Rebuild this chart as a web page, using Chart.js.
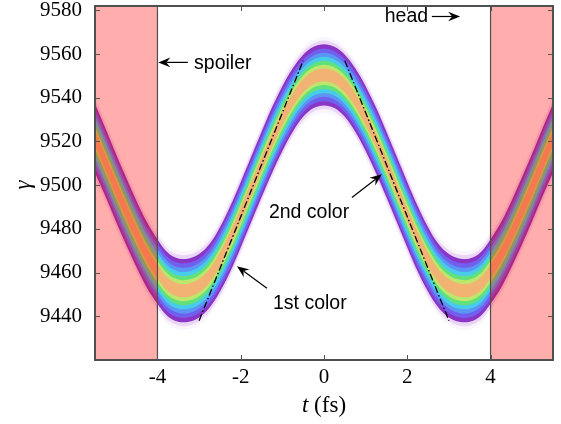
<!DOCTYPE html>
<html>
<head>
<meta charset="utf-8">
<script src="https://cdn.jsdelivr.net/npm/chart.js@4.4.1/dist/chart.umd.min.js"></script>
<style>
  html, body { margin: 0; padding: 0; background: #fff; }
  #wrap { width: 561px; height: 424px; }
</style>
</head>
<body>
<div id="wrap"><canvas id="gammaChart" width="561" height="424"></canvas></div>
<script>
/* Energy (gamma) of the electron bunch versus time, with the spoiler
 * regions shaded at both ends and the two chirp guides drawn dash-dot. */

// time samples along the bunch (fs)
const timeFs = [
    -5.5, -5.25, -5.0, -4.75, -4.5, -4.25, -4.0, -3.75, -3.5, -3.25, -3.0,
    -2.75, -2.5, -2.25, -2.0, -1.75, -1.5, -1.25, -1.0, -0.75, -0.5, -0.25,
    0.0, 0.25, 0.5, 0.75, 1.0, 1.25, 1.5, 1.75, 2.0, 2.25, 2.5, 2.75,
    3.0, 3.25, 3.5, 3.75, 4.0, 4.25, 4.5, 4.75, 5.0, 5.25, 5.5
];
// centre of the gamma band at each sample
const gammaCenter = [
    9521.5, 9510.5, 9499.0, 9488.0, 9477.5, 9468.0, 9460.5, 9454.5, 9452.0, 9452.0, 9454.0,
    9458.5, 9466.0, 9475.5, 9486.5, 9498.0, 9509.5, 9520.5, 9530.5, 9539.0, 9545.5, 9549.3,
    9550.5, 9549.3, 9545.5, 9539.0, 9530.5, 9520.5, 9509.5, 9498.0, 9486.5, 9475.5, 9466.0, 9458.5,
    9454.0, 9452.0, 9452.0, 9454.5, 9460.5, 9468.0, 9477.5, 9488.0, 9499.0, 9510.5, 9521.5
];
// half height of the band (energy spread)
const gammaSpread = [
    15.8, 15.6, 15.5, 15.4, 15.2, 15.0, 14.8, 14.6, 14.5, 14.5, 14.5,
    14.6, 14.8, 15.0, 15.0, 15.0, 15.0, 15.0, 14.8, 14.5, 14.2, 14.0,
    14.0, 14.0, 14.2, 14.5, 14.8, 15.0, 15.0, 15.0, 15.0, 15.0, 14.8, 14.6,
    14.5, 14.5, 14.5, 14.6, 14.8, 15.0, 15.2, 15.4, 15.5, 15.6, 15.8
];

const xTickValues = [-4, -2, 0, 2, 4];
const yTickValues = [9440, 9460, 9480, 9500, 9520, 9540, 9560, 9580];
const spoilerEdges = [-4, 4];

// dash-dot chirp guides
const guideLeftT = [-3.0, -0.5];
const guideLeftGamma = [9438, 9557];
const guideRightT = [0.5, 3.0];
const guideRightGamma = [9557, 9438];

// colour layers of the density band, outermost first: [fraction of spread, colour]
const bandLayers = [
    [1.24, 'rgba(180,110,230,0.07)'],
    [1.12, 'rgba(160,80,220,0.18)'],
    [1.00, '#8b35c6'],
    [0.86, '#7160ee'],
    [0.72, '#5b96f4'],
    [0.59, '#47cdea'],
    [0.46, '#62e07c'],
    [0.33, '#bde66c'],
    [0.21, '#f1b274']
];

const SERIF = '"Liberation Serif", "Times New Roman", serif';
const SANS = '"Liberation Sans", Arial, Helvetica, sans-serif';

// inner layers go first in the list so the outer ones are painted underneath
const datasets = [];
datasets.push({
    data: guideLeftT.map(function (t, i) { return { x: t, y: guideLeftGamma[i] }; }),
    borderColor: '#000', borderWidth: 1.3, borderDash: [7, 2.5, 1.5, 2.5],
    pointRadius: 0, fill: false
});
datasets.push({
    data: guideRightT.map(function (t, i) { return { x: t, y: guideRightGamma[i] }; }),
    borderColor: '#000', borderWidth: 1.3, borderDash: [7, 2.5, 1.5, 2.5],
    pointRadius: 0, fill: false
});
bandLayers.slice().reverse().forEach(function (layer) {
    const f = layer[0];
    datasets.push({
        data: timeFs.map(function (t, i) { return { x: t, y: gammaCenter[i] + f * gammaSpread[i] }; }),
        borderWidth: 0, pointRadius: 0, tension: 0.35,
        fill: '+1', backgroundColor: layer[1]
    });
    datasets.push({
        data: timeFs.map(function (t, i) { return { x: t, y: gammaCenter[i] - f * gammaSpread[i] }; }),
        borderWidth: 0, pointRadius: 0, tension: 0.35, fill: false
    });
});

function arrow(ctx, x0, y0, x1, y1) {
    const ang = Math.atan2(y1 - y0, x1 - x0);
    const len = 12, half = 4.8, notch = 8;
    ctx.beginPath();
    ctx.moveTo(x0, y0);
    ctx.lineTo(x1 - notch * Math.cos(ang), y1 - notch * Math.sin(ang));
    ctx.stroke();
    ctx.save();
    ctx.translate(x1, y1);
    ctx.rotate(ang);
    ctx.beginPath();
    ctx.moveTo(0, 0);
    ctx.lineTo(-len, -half);
    ctx.lineTo(-notch, 0);
    ctx.lineTo(-len, half);
    ctx.closePath();
    ctx.fill();
    ctx.restore();
}

const decorPlugin = {
    id: 'decor',
    afterDatasetsDraw: function (chart) {
        const ctx = chart.ctx;
        const a = chart.chartArea;
        const xs = chart.scales.x, ys = chart.scales.y;
        const xl = xs.getPixelForValue(spoilerEdges[0]);
        const xr = xs.getPixelForValue(spoilerEdges[1]);

        ctx.save();
        // spoiler shading
        ctx.fillStyle = 'rgba(255,0,0,0.32)';
        ctx.fillRect(a.left, a.top, xl - a.left, a.bottom - a.top);
        ctx.fillRect(xr, a.top, a.right - xr, a.bottom - a.top);
        ctx.strokeStyle = '#4d4d4d';
        ctx.lineWidth = 1.2;
        ctx.beginPath();
        ctx.moveTo(xl, a.top); ctx.lineTo(xl, a.bottom);
        ctx.moveTo(xr, a.top); ctx.lineTo(xr, a.bottom);
        ctx.stroke();

        // frame
        ctx.strokeStyle = '#505050';
        ctx.lineWidth = 2;
        ctx.strokeRect(a.left, a.top, a.right - a.left, a.bottom - a.top);

        // inward ticks on all four sides
        ctx.lineWidth = 1;
        ctx.strokeStyle = '#555';
        ctx.beginPath();
        xTickValues.forEach(function (v) {
            const px = Math.round(xs.getPixelForValue(v)) + 0.5;
            ctx.moveTo(px, a.bottom); ctx.lineTo(px, a.bottom - 5);
            ctx.moveTo(px, a.top); ctx.lineTo(px, a.top + 5);
        });
        yTickValues.forEach(function (v) {
            const py = Math.round(ys.getPixelForValue(v)) + 0.5;
            ctx.moveTo(a.left, py); ctx.lineTo(a.left + 5, py);
            ctx.moveTo(a.right, py); ctx.lineTo(a.right - 5, py);
        });
        ctx.stroke();

        // annotations
        ctx.fillStyle = '#000';
        ctx.strokeStyle = '#000';
        ctx.lineWidth = 1.2;
        ctx.font = '19.5px ' + SANS;
        ctx.textBaseline = 'middle';
        const P = function (t, g) { return [xs.getPixelForValue(t), ys.getPixelForValue(g)]; };

        let p0 = P(-3.27, 9556.2), p1 = P(-3.98, 9556.2);
        arrow(ctx, p0[0], p0[1], p1[0], p1[1]);
        ctx.textAlign = 'left';
        let q = P(-3.12, 9555.5);
        ctx.fillText('spoiler', q[0], q[1]);

        q = P(2.5, 9577.0);
        ctx.textAlign = 'right';
        ctx.fillText('head', q[0], q[1]);
        p0 = P(2.59, 9577.2); p1 = P(3.27, 9577.2);
        arrow(ctx, p0[0], p0[1], p1[0], p1[1]);

        ctx.textAlign = 'center';
        q = P(-0.36, 9487.6);
        ctx.fillText('2nd color', q[0], q[1]);
        p0 = P(0.67, 9494.4); p1 = P(1.39, 9505.0);
        arrow(ctx, p0[0], p0[1], p1[0], p1[1]);

        q = P(-0.34, 9446.0);
        ctx.fillText('1st color', q[0], q[1]);
        p0 = P(-1.37, 9452.8); p1 = P(-2.09, 9462.9);
        arrow(ctx, p0[0], p0[1], p1[0], p1[1]);

        // axis titles
        ctx.textBaseline = 'alphabetic';
        ctx.textAlign = 'left';
        const cx = (a.left + a.right) / 2;
        ctx.font = 'italic 23px ' + SERIF;
        const wt = ctx.measureText('t').width;
        ctx.font = '23px ' + SERIF;
        const wr = ctx.measureText(' (fs)').width;
        const x0 = cx - (wt + wr) / 2;
        ctx.font = 'italic 23px ' + SERIF;
        ctx.fillText('t', x0, 412);
        ctx.font = '23px ' + SERIF;
        ctx.fillText(' (fs)', x0 + wt, 412);

        ctx.translate(24, (a.top + a.bottom) / 2 + 2);
        ctx.rotate(-Math.PI / 2);
        ctx.textAlign = 'center';
        ctx.textBaseline = 'middle';
        ctx.font = 'italic 23px ' + SERIF;
        ctx.fillText('\u03B3', 0, 0);
        ctx.restore();
    }
};

const tickFont = { family: SERIF, size: 21 };
const plainNumber = function (v) { return String(v); };

new Chart(document.getElementById('gammaChart').getContext('2d'), {
    type: 'line',
    data: { datasets: datasets },
    options: {
        responsive: false,
        animation: false,
        events: [],
        layout: { padding: { top: 6, right: 8, left: 0, bottom: 0 } },
        plugins: { legend: { display: false }, tooltip: { enabled: false } },
        scales: {
            x: {
                type: 'linear', min: -5.5, max: 5.5,
                afterBuildTicks: function (s) { s.ticks = xTickValues.map(function (v) { return { value: v }; }); },
                afterFit: function (s) { s.height = 64; s.paddingLeft = 0; s.paddingRight = 0; },
                grid: { display: false, drawTicks: false },
                border: { display: false },
                ticks: { font: tickFont, color: '#000', padding: 5, maxRotation: 0, callback: plainNumber }
            },
            y: {
                type: 'linear', min: 9420, max: 9582,
                afterBuildTicks: function (s) { s.ticks = yTickValues.map(function (v) { return { value: v }; }); },
                afterFit: function (s) { s.width = 95; s.paddingTop = 0; s.paddingBottom = 0; },
                grid: { display: false, drawTicks: false },
                border: { display: false },
                ticks: { font: tickFont, color: '#000', padding: 13, callback: plainNumber }
            }
        }
    },
    plugins: [decorPlugin]
});
</script>
</body>
</html>
